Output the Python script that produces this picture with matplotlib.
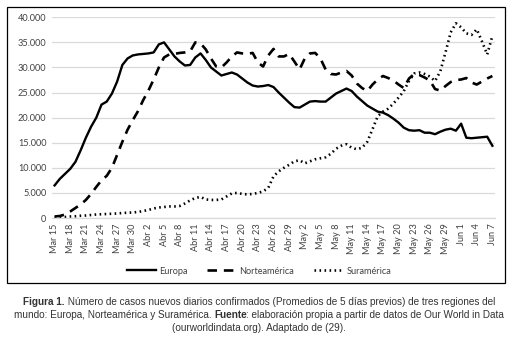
import matplotlib
matplotlib.use("Agg")
import matplotlib.pyplot as plt
from matplotlib.lines import Line2D
from matplotlib.patches import Rectangle

# ---------------- data ----------------
europa = [6500, 7800, 8800, 9800, 11200, 13500, 16000, 18200, 20000, 22600,
          23200, 24800, 27200, 30500, 31800, 32400, 32600, 32700, 32800, 33000,
          34600, 35000, 33600, 32200, 31200, 30400, 30500, 32000, 32800, 31500,
          30000, 29200, 28400, 28700, 29000, 28600, 27800, 27000, 26400, 26200,
          26300, 26500, 26100, 25000, 24000, 23000, 22100, 22000, 22600, 23200,
          23300, 23200, 23200, 24000, 24800, 25300, 25800, 25300, 24200, 23300,
          22400, 21800, 21200, 21000, 20500, 19800, 19000, 18000, 17500, 17400,
          17500, 17000, 17000, 16700, 17200, 17600, 17800, 17400, 18800, 16000,
          15900, 16000, 16100, 16200, 14400]
norteamerica = [300, 400, 700, 1300, 2000, 2700, 3600, 4800, 6200, 7500,
                8400, 10000, 12600, 15200, 17600, 19500, 21300, 23500, 25400, 27600,
                30000, 32000, 32600, 32700, 32900, 33000, 33200, 35000, 34800, 33600,
                31800, 30200, 30000, 31000, 32200, 33000, 32800, 32700, 32900, 31000,
                30200, 32400, 33700, 32200, 32200, 32700, 31200, 29600, 31800, 32800,
                32900, 31800, 29600, 28700, 28600, 29000, 29300, 28400, 26800, 25900,
                25300, 26600, 27600, 28300, 27900, 27400, 26600, 25900, 27800, 28700,
                28500, 28000, 27400, 25700, 25400, 26300, 27100, 27500, 27600, 27900,
                27000, 26600, 27200, 27800, 28300]
suramerica = [100, 150, 200, 300, 350, 450, 500, 600, 700, 750,
              800, 850, 900, 1000, 1050, 1100, 1200, 1400, 1600, 1900,
              2100, 2200, 2300, 2300, 2400, 2900, 3500, 4000, 4200, 3700,
              3600, 3600, 3700, 4300, 4900, 5000, 4800, 4700, 4800, 5000,
              5300, 6000, 8300, 9300, 10000, 10600, 11300, 11500, 10900, 11300,
              11700, 11900, 12100, 12800, 13800, 14400, 14700, 14000, 13700, 14000,
              15200, 17700, 20300, 21200, 21800, 22800, 24000, 25300, 27300, 28800,
              29000, 28700, 28200, 27300, 29200, 33000, 37000, 38800, 38000, 36800,
              36500, 37600, 35200, 32600, 36300]

x_tick_labels = ["Mar 15", "Mar 18", "Mar 21", "Mar 24", "Mar 27", "Mar 30",
                 "Abr 2", "Abr 5", "Abr 8", "Abr 11", "Abr 14", "Abr 17",
                 "Abr 20", "Abr 23", "Abr 26", "Abr 29", "May 2", "May 5",
                 "May 8", "May 11", "May 14", "May 17", "May 20", "May 23",
                 "May 26", "May 29", "Jun 1", "Jun 4", "Jun 7"]
y_ticks = [0, 5000, 10000, 15000, 20000, 25000, 30000, 35000, 40000]
y_tick_labels = ["0", "5.000", "10.000", "15.000", "20.000", "25.000",
                 "30.000", "35.000", "40.000"]
series_names = ["Europa", "Norteamérica", "Suramérica"]

# ---------------- figure ----------------
W, H = 518, 343
fig = plt.figure(figsize=(W / 100, H / 100), dpi=100)
fig.patch.set_facecolor("white")

ax = fig.add_axes([52 / W, 1 - 218 / H, 443 / W, (218 - 17.3) / H])
days = list(range(len(europa)))

DASH = (0, (3.6, 2.6))
DOT = (0, (0.6, 1.3))
ax.plot(days, europa, color="black", lw=1.7, solid_joinstyle="round")
ax.plot(days, norteamerica, color="black", lw=1.9, linestyle=DASH)
ax.plot(days, suramerica, color="black", lw=1.9, linestyle=DOT,
        dash_capstyle="butt")

ax.set_xlim(-0.5, len(europa) - 0.5)
ax.set_ylim(0, 40000)
ax.set_yticks(y_ticks)
ax.set_yticklabels(y_tick_labels, fontfamily="Lato", fontsize=6.6, color="#404040")
ax.set_xticks(days[::3])
ax.set_xticklabels(x_tick_labels, rotation=90, fontfamily="Lato", fontsize=6.6,
                   color="#404040")
ax.tick_params(axis="both", length=0, pad=4)
ax.grid(axis="y", color="#d9d9d9", lw=0.9)
ax.set_axisbelow(True)
for s in ["top", "right", "left"]:
    ax.spines[s].set_visible(False)
ax.spines["bottom"].set_color("#d9d9d9")
ax.spines["bottom"].set_linewidth(0.9)

# border box
fig.add_artist(Rectangle((7 / W, 1 - 283 / H), (505 - 7) / W, (283 - 7) / H,
                         transform=fig.transFigure, fill=False, lw=0.9,
                         edgecolor="black"))

# legend
handles = [
    Line2D([], [], color="black", lw=1.7),
    Line2D([], [], color="black", lw=1.9, linestyle=DASH),
    Line2D([], [], color="black", lw=1.9, linestyle=DOT),
]
fig.legend(handles, series_names, loc="center", ncol=3,
           bbox_to_anchor=(259 / W, 1 - 271 / H), frameon=False,
           prop={"family": "Lato", "size": 6.6}, handlelength=3.2,
           columnspacing=2.2, handletextpad=0.3, labelcolor="#404040")

# caption with mixed bold/regular: (text, bold, pixel adjustment after piece)
caption_lines = [
    [("Figura 1.", True, 0.0), (" Número de casos nuevos diarios confirmados (Promedios de 5 días previos) de tres regiones del", False, 0.0)],
    [("mundo: Europa, Norteamérica y Suramérica. ", False, 0.0), ("Fuente", True, -1.8),
     (": elaboración propia a partir de datos de Our World in Data", False, 0.0)],
    [("(ourworldindata.org). Adaptado de (29).", False, 0.0)],
]
cap_y = [302, 315, 328]
renderer = fig.canvas.get_renderer()
for line, yy in zip(caption_lines, cap_y):
    texts = []
    for s, bold, adj in line:
        t = fig.text(0, 1 - yy / H, s, fontfamily="Liberation Sans", fontsize=7.2,
                     fontweight="bold" if bold else "normal", color="#333333",
                     va="center", ha="left")
        texts.append((t, adj))
    widths = [t.get_window_extent(renderer).width + adj for t, adj in texts]
    total = sum(widths)
    x0 = (W / 2 - total / 2)
    for (t, adj), w in zip(texts, widths):
        t.set_x(x0 / W)
        x0 += w

fig.savefig("out.png", dpi=100, facecolor="white")
